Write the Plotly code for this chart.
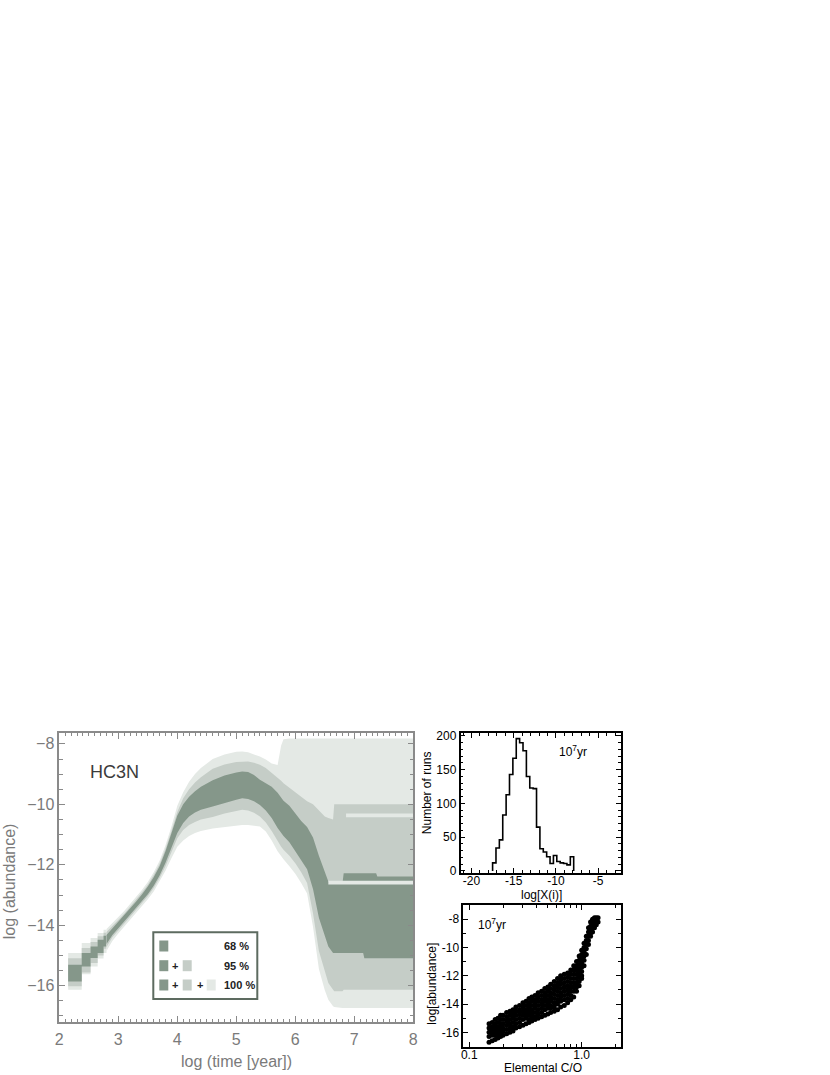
import plotly.graph_objects as go

W, H = 830, 1075

# ── Shared style constants
DARK  = '#85978a'
MID   = '#c5cdc7'
LIGHT = '#e4e9e5'
FRAME = '#8a8a8a'
LABEL = '#7a7a7a'
FONT  = 'Liberation Sans'

# ── Main panel data: spread of log(abundance) of HC3N vs log(time)
# coarse early blocks (edges; the last edge closes the last block)
blk_t    = [2.15, 2.38, 2.53, 2.65, 2.75, 2.80]
blk_l_hi = [-14.92, -14.59, -14.42, -14.26, -14.15]
blk_m_hi = [-15.09, -14.75, -14.55, -14.36, -14.25]
blk_d_hi = [-15.31, -14.92, -14.70, -14.48, -14.35]
blk_d_lo = [-15.86, -15.36, -15.08, -14.92, -14.70]
blk_m_lo = [-16.02, -15.56, -15.25, -15.00, -14.78]
blk_l_lo = [-16.13, -15.62, -15.36, -15.10, -14.92]

time = [2.80, 2.90, 3.00, 3.10, 3.20, 3.30, 3.40, 3.50, 3.60, 3.70,
        3.80, 3.90, 4.00, 4.10, 4.20, 4.30, 4.40, 4.60, 4.80, 5.00,
        5.10, 5.20, 5.30, 5.40, 5.50, 5.60, 5.70, 5.76, 5.80, 5.90,
        6.00, 6.10, 6.20, 6.30, 6.40, 6.50, 6.56, 6.64, 6.66, 6.80,
        6.82, 7.15, 7.17, 7.37, 7.39, 8.00]
# 100 % envelope
l_hi = [-14.12, -13.92, -13.74, -13.53, -13.30, -13.07, -12.83, -12.57, -12.25, -11.87,
        -11.35, -10.74, -10.05, -9.60, -9.25, -9.00, -8.80, -8.50, -8.35, -8.26,
        -8.25, -8.28, -8.34, -8.42, -8.52, -8.65, -8.70, -8.05, -7.85, -7.82,
        -7.82, -7.82, -7.82, -7.82, -7.82, -7.82, -7.82, -7.82, -7.82, -7.82,
        -7.82, -7.82, -7.82, -7.82, -7.82, -7.82]
l_lo = [-14.85, -14.52, -14.27, -14.04, -13.81, -13.60, -13.38, -13.14, -12.88, -12.56,
        -12.20, -11.78, -11.40, -11.20, -11.05, -10.95, -10.88, -10.80, -10.75, -10.70,
        -10.68, -10.68, -10.70, -10.73, -10.90, -11.20, -11.55, -11.72, -11.82, -12.05,
        -12.30, -12.60, -12.95, -14.05, -15.45, -16.15, -16.46, -16.68, -16.70, -16.74,
        -16.74, -16.74, -16.74, -16.74, -16.74, -16.74]
# 95 % band
m_hi = [-14.22, -14.02, -13.83, -13.62, -13.39, -13.16, -12.92, -12.66, -12.34, -11.97,
        -11.47, -10.88, -10.25, -9.80, -9.50, -9.28, -9.10, -8.82, -8.68, -8.60,
        -8.58, -8.58, -8.62, -8.69, -8.80, -8.95, -9.12, -9.22, -9.30, -9.45,
        -9.62, -9.78, -9.90, -10.00, -10.20, -10.40, -10.45, -10.50, -10.00, -10.00,
        -10.00, -10.00, -10.00, -10.00, -10.00, -10.00]
m_lo = [-14.72, -14.40, -14.17, -13.95, -13.72, -13.50, -13.28, -13.04, -12.77, -12.44,
        -12.05, -11.58, -11.12, -10.85, -10.68, -10.58, -10.50, -10.42, -10.30, -10.22,
        -10.18, -10.20, -10.28, -10.40, -10.60, -10.88, -11.22, -11.40, -11.50, -11.70,
        -11.95, -12.25, -12.60, -13.60, -14.85, -15.55, -15.91, -16.13, -16.18, -16.18,
        -16.13, -16.13, -16.13, -16.13, -16.13, -16.13]
# 68 % band
d_hi = [-14.32, -14.10, -13.90, -13.68, -13.45, -13.22, -12.98, -12.72, -12.41, -12.05,
        -11.55, -10.97, -10.37, -10.00, -9.75, -9.57, -9.42, -9.20, -9.05, -8.95,
        -8.91, -8.93, -9.03, -9.19, -9.30, -9.42, -9.62, -9.78, -9.88, -10.05,
        -10.29, -10.55, -10.75, -11.10, -11.70, -12.20, -12.55, -12.60, -12.60, -12.60,
        -12.28, -12.28, -12.28, -12.28, -12.39, -12.39]
d_lo = [-14.62, -14.32, -14.10, -13.88, -13.65, -13.43, -13.21, -12.97, -12.69, -12.35,
        -11.93, -11.43, -10.95, -10.62, -10.40, -10.27, -10.18, -10.07, -9.95, -9.85,
        -9.80, -9.82, -9.90, -10.02, -10.20, -10.45, -10.78, -10.95, -11.05, -11.25,
        -11.55, -11.88, -12.15, -12.80, -13.75, -14.35, -14.70, -14.92, -14.92, -14.92,
        -14.92, -14.92, -15.09, -15.09, -15.09, -15.09]

# thin light stripes inside the late-time bands
stripe1_t  = [6.86, 8.00]
stripe1_hi = [-10.30, -10.30]
stripe1_lo = [-10.43, -10.43]
stripe2_t  = [6.56, 8.00]
stripe2_hi = [-12.53, -12.53]
stripe2_lo = [-12.65, -12.65]

# ── Histogram at 1e7 yr
hist_edges  = [-17.5, -17.1, -16.7, -16.3, -15.9, -15.5, -15.1, -14.7, -14.3, -13.9,
               -13.5, -13.1, -12.7, -12.3, -11.9, -11.5, -11.1, -10.7, -10.3, -9.9,
               -9.5, -9.1, -8.7, -8.3, -7.9]
hist_counts = [12, 34, 46, 83, 113, 143, 167, 196, 190, 178,
               140, 123, 122, 65, 33, 28, 21, 11, 23, 14,
               12, 11, 9, 21]

# ── Abundance vs elemental C/O at 1e7 yr (columns of runs)
sc_co = [0.15, 0.16, 0.17, 0.18, 0.19, 0.20, 0.215, 0.23, 0.245, 0.26,
         0.28, 0.30, 0.32, 0.34, 0.36, 0.385, 0.41, 0.44, 0.47, 0.50,
         0.53, 0.57, 0.61, 0.65, 0.70, 0.75, 0.80, 0.85, 0.90, 0.95,
         1.00, 1.05, 1.10, 1.15, 1.20, 1.25, 1.30, 1.35, 1.40]
sc_ab = [
    [-15.4, -15.7, -16.0, -16.3, -16.7],
    [-15.3, -15.6, -15.9, -16.2, -16.6],
    [-15.1, -15.4, -15.7, -16.0, -16.2, -16.5],
    [-15.0, -15.3, -15.6, -15.9, -16.1, -16.4],
    [-14.8, -15.1, -15.4, -15.7, -16.0, -16.3],
    [-14.8, -15.1, -15.4, -15.7, -15.9, -16.2],
    [-14.6, -14.9, -15.2, -15.5, -15.8, -16.1],
    [-14.5, -14.8, -15.1, -15.4, -15.7, -16.0],
    [-14.4, -14.7, -15.0, -15.3, -15.6, -15.9],
    [-14.2, -14.5, -14.8, -15.1, -15.4, -15.7],
    [-14.1, -14.4, -14.7, -15.0, -15.3, -15.6],
    [-13.9, -14.2, -14.5, -14.8, -15.1, -15.5],
    [-13.8, -14.1, -14.4, -14.7, -15.0, -15.4],
    [-13.6, -13.9, -14.2, -14.5, -14.8, -15.1, -15.3],
    [-13.5, -13.8, -14.1, -14.4, -14.7, -15.0, -15.2],
    [-13.4, -13.7, -14.0, -14.3, -14.6, -14.9, -15.1],
    [-13.2, -13.5, -13.8, -14.1, -14.4, -14.7, -15.0],
    [-13.1, -13.4, -13.7, -14.0, -14.3, -14.6, -14.9],
    [-12.9, -13.2, -13.5, -13.8, -14.1, -14.4, -14.8],
    [-12.8, -13.1, -13.4, -13.7, -14.0, -14.3, -14.7],
    [-12.6, -12.9, -13.2, -13.5, -13.8, -14.1, -14.3, -14.6],
    [-12.4, -12.7, -13.0, -13.3, -13.6, -13.9, -14.2, -14.5],
    [-12.2, -12.5, -12.8, -13.1, -13.4, -13.7, -14.0, -14.4],
    [-12.0, -12.3, -12.6, -12.9, -13.2, -13.5, -13.8, -14.2],
    [-11.9, -12.2, -12.5, -12.8, -13.1, -13.4, -13.7, -14.1],
    [-11.8, -12.1, -12.4, -12.7, -13.0, -13.3, -13.6, -13.9],
    [-11.6, -11.9, -12.2, -12.5, -12.8, -13.1, -13.4, -13.7],
    [-11.3, -11.6, -11.9, -12.2, -12.5, -12.8, -13.1, -13.5],
    [-11.0, -11.3, -11.6, -11.9, -12.2, -12.5, -12.8, -13.1],
    [-10.6, -10.9, -11.2, -11.5, -11.8, -12.1, -12.4, -12.7],
    [-10.2, -10.5, -10.8, -11.1, -11.4, -11.7, -12.0, -12.2],
    [-9.7, -10.0, -10.3, -10.6, -10.9, -11.3],
    [-9.2, -9.5, -9.8, -10.1, -10.5],
    [-8.6, -8.9, -9.2, -9.5, -9.8],
    [-8.2, -8.5, -8.8, -9.0, -9.2],
    [-8.0, -8.3, -8.6, -8.9],
    [-7.9, -8.2, -8.4, -8.6],
    [-7.9, -8.1, -8.4],
    [-7.9, -8.2],
]


def px_x(x):
    return x / W


def px_y(y):
    return 1 - y / H


def band(fig, t, lo, hi, color, shape='linear'):
    fig.add_trace(go.Scatter(x=t, y=lo, mode='lines', line=dict(width=0, shape=shape),
                             hoverinfo='skip', showlegend=False, xaxis='x', yaxis='y'))
    fig.add_trace(go.Scatter(x=t, y=hi, mode='lines', line=dict(width=0, shape=shape),
                             fill='tonexty', fillcolor=color,
                             hoverinfo='skip', showlegend=False, xaxis='x', yaxis='y'))


def close(v):
    return v + [v[-1]]


fig = go.Figure()

# early staircase blocks
band(fig, blk_t, close(blk_l_lo), close(blk_l_hi), LIGHT, 'hv')
band(fig, blk_t, close(blk_m_lo), close(blk_m_hi), MID, 'hv')
band(fig, blk_t, close(blk_d_lo), close(blk_d_hi), DARK, 'hv')

band(fig, time, l_lo, l_hi, LIGHT)
band(fig, time, m_lo, m_hi, MID)
band(fig, time, d_lo, d_hi, DARK)
band(fig, stripe1_t, stripe1_lo, stripe1_hi, LIGHT)
band(fig, stripe2_t, stripe2_lo, stripe2_hi, LIGHT)

# histogram outline
hx = [hist_edges[0]] + hist_edges
hy = [0] + hist_counts + [0]
fig.add_trace(go.Scatter(x=hx, y=hy, mode='lines', line=dict(color='black', width=1.6, shape='hv'),
                         hoverinfo='skip', showlegend=False, xaxis='x2', yaxis='y2'))

# scatter cloud
sx, sy = [], []
for co, col in zip(sc_co, sc_ab):
    for ab in col:
        sx.append(co)
        sy.append(ab)
fig.add_trace(go.Scatter(x=sx, y=sy, mode='markers', marker=dict(color='black', size=5),
                         hoverinfo='skip', showlegend=False, xaxis='x3', yaxis='y3'))

main_axis = dict(showgrid=False, zeroline=False, showline=True, linecolor=FRAME, linewidth=1.5,
                 mirror='allticks', ticks='inside', tickcolor=FRAME, tickwidth=1, automargin=False,
                 tickfont=dict(family=FONT, size=16, color=LABEL))
small_axis = dict(showgrid=False, zeroline=False, showline=True, linecolor='black', linewidth=1.5,
                  mirror='allticks', ticks='inside', tickcolor='black', tickwidth=1, ticklen=5,
                  automargin=False, tickfont=dict(family=FONT, size=12, color='black'))

fig.update_layout(
    width=W, height=H,
    margin=dict(l=0, r=0, t=0, b=0),
    paper_bgcolor='white', plot_bgcolor='white',
    showlegend=False,
    font=dict(family=FONT),
    xaxis=dict(main_axis, domain=[px_x(59.3), px_x(413.3)], anchor='y', range=[2, 8],
               tickvals=[2, 3, 4, 5, 6, 7, 8], ticklen=6, ticklabelstandoff=2,
               minor=dict(dtick=0.1, ticklen=3, ticks='inside', tickcolor=FRAME)),
    yaxis=dict(main_axis, domain=[px_y(1022), px_y(733)], anchor='x', range=[-17.2, -7.64],
               tickvals=[-16, -14, -12, -10, -8], ticklen=6,
               minor=dict(dtick=0.5, ticklen=4, ticks='inside', tickcolor=FRAME)),
    xaxis2=dict(small_axis, domain=[px_x(460.5), px_x(621)], anchor='y2', range=[-21.3, -2.3],
                tickvals=[-20, -15, -10, -5], ticktext=['-20', '-15', '-10', '-5'],
                ticklabelstandoff=-4,
                minor=dict(dtick=1, ticklen=3, ticks='inside', tickcolor='black')),
    yaxis2=dict(small_axis, domain=[px_y(873), px_y(733)], anchor='x2', range=[-3, 204.4],
                tickvals=[0, 50, 100, 150, 200],
                minor=dict(dtick=10, ticklen=3, ticks='inside', tickcolor='black')),
    xaxis3=dict(small_axis, type='log', domain=[px_x(463.3), px_x(621)], anchor='y3',
                range=[-1.053, 0.350], tickvals=[0.1, 1.0], ticktext=['0.1', '1.0'],
                ticklabelstandoff=-4,
                minor=dict(tickmode='array', tickvals=[0.2, 0.3, 0.4, 0.5, 0.6, 0.7, 0.8, 0.9, 2.0],
                           ticklen=3, ticks='inside', tickcolor='black')),
    yaxis3=dict(small_axis, domain=[px_y(1046.5), px_y(905)], anchor='x3', range=[-17, -7],
                tickvals=[-16, -14, -12, -10, -8], ticktext=['-16', '-14', '-12', '-10', '-8'],
                minor=dict(dtick=1, ticklen=3, ticks='inside', tickcolor='black')),
)

# ── Legend box inside the main panel
LEG_EDGE = '#5d6b60'
shapes = [dict(type='rect', xref='paper', yref='paper',
               x0=px_x(153.3), x1=px_x(257.3), y0=px_y(999), y1=px_y(932.3),
               line=dict(color=LEG_EDGE, width=2), fillcolor='white', layer='above')]
rows = [(946, [DARK]), (965.7, [DARK, MID]), (985, [DARK, MID, LIGHT])]
sq_x = [159.3, 182.7, 206.7]
for yc, cols in rows:
    for xs, c in zip(sq_x, cols):
        shapes.append(dict(type='rect', xref='paper', yref='paper',
                           x0=px_x(xs), x1=px_x(xs + 9), y0=px_y(yc + 5.5), y1=px_y(yc - 5.5),
                           line=dict(width=0), fillcolor=c, layer='above'))
fig.update_layout(shapes=shapes)

ann = []


def text(x, y, s, size, color='black', angle=0, xanchor='center', bold=False):
    ann.append(dict(x=px_x(x), y=px_y(y), xref='paper', yref='paper', text=s, showarrow=False,
                    xanchor=xanchor, yanchor='middle', textangle=angle,
                    font=dict(family=FONT, size=size, color=color,
                              weight='bold' if bold else 'normal')))


for yc, lab, plus in [(946, '68 %', []), (965.7, '95 %', [173.3]), (985, '100 %', [173.3, 197.7])]:
    text(222, yc, lab, 11, '#222222', xanchor='left', bold=True)
    for xp in plus:
        text(xp + 2, yc, '+', 11, '#222222', bold=True)

text(236, 1061.7, 'log (time [year])', 16, LABEL)
text(9.5, 881.7, 'log (abundance)', 16, LABEL, angle=-90)
text(114.5, 771.7, 'HC3N', 18, '#3b3b3b')
text(426.7, 792.5, 'Number of runs', 12, angle=-90)
text(541.7, 895, 'log[X(i)]', 12)
text(573, 751, '10<sup>7</sup>yr', 12)
text(431.7, 984, 'log[abundance]', 12, angle=-90)
text(542.5, 1068.3, 'Elemental C/O', 12)
text(491.5, 924, '10<sup>7</sup>yr', 12)
fig.update_layout(annotations=ann)

# drop the browser's default page margin so pixels line up with the figure
fig.write_html("out.html", config={'displayModeBar': False},
               post_script="document.body.style.margin='0px';")
